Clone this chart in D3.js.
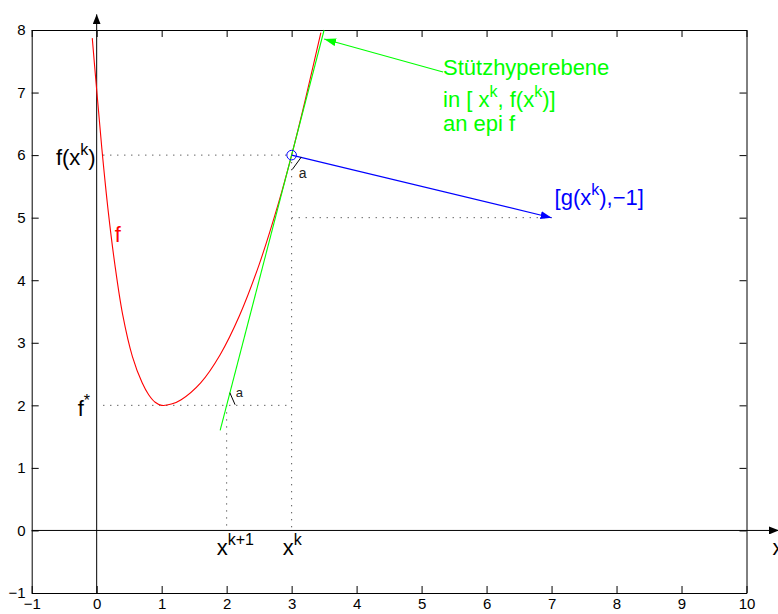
<!DOCTYPE html>
<html>
<head>
<meta charset="utf-8">
<script src="https://cdn.jsdelivr.net/npm/d3@7"></script>
<style>
  body { margin: 0; background: #fff; }
  svg { display: block; font-family: "Liberation Sans", Arial, Helvetica, sans-serif; }
</style>
</head>
<body>
<svg width="778" height="614"></svg>
<script>
// tick values
const xTicks = [-1, 0, 1, 2, 3, 4, 5, 6, 7, 8, 9, 10];
const yTicks = [-1, 0, 1, 2, 3, 4, 5, 6, 7, 8];

// the function f
const curveX = [-0.068, 0, 0.08, 0.18, 0.28, 0.4, 0.55, 0.7, 0.8, 0.9, 1.0, 1.15, 1.3, 1.6, 1.9, 2.2, 2.5, 2.8, 3.0, 3.2, 3.45];
const curveY = [7.87, 7.04, 6.1, 5.08, 4.25, 3.45, 2.78, 2.36, 2.17, 2.05, 2.0, 2.02, 2.09, 2.36, 2.81, 3.44, 4.25, 5.24, 6.0, 6.84, 7.96];

// supporting hyperplane (tangent) and subgradient
const tangentX = [1.9, 3.5];
const tangentY = [1.6, 8.0];
const xk = [3, 6];
const gradEnd = [7, 5];

// dotted helper lines
const guideLines = [
  [[0.1, 6], [3, 6]],
  [[3, 6], [3, 0]],
  [[3, 5], [7, 5]],
  [[0.1, 2], [3, 2]],
  [[2, 2], [2, 0]]
];

// leader arrow from the green text to the hyperplane
const leaderFrom = [5.33, 7.33];
const leaderTo = [3.5, 7.855];

// little angle marks "a"
const angleMarks = [
  [[3.15, 5.97], [3.01, 5.77]],
  [[2.05, 2.2], [2.13, 2.01]]
];

// extents of the drawn coordinate axes (with arrows)
const axisArrowX = [-1, 10.5];
const axisArrowY = [-1, 8.25];

const svg = d3.select("svg"),
      width = +svg.attr("width"),
      height = +svg.attr("height");

const margin = {top: 30, right: 31.5, bottom: 21, left: 31.7};

const x = d3.scaleLinear().domain([-1, 10]).range([margin.left, width - margin.right]);
const y = d3.scaleLinear().domain([-1, 8]).range([height - margin.bottom, margin.top]);

// arrow markers
const defs = svg.append("defs");
function marker(id, color, len, half) {
  defs.append("marker")
    .attr("id", id)
    .attr("markerUnits", "userSpaceOnUse")
    .attr("viewBox", `0 ${-half} ${len} ${half * 2}`)
    .attr("refX", len).attr("refY", 0)
    .attr("markerWidth", len).attr("markerHeight", half * 2)
    .attr("orient", "auto")
    .append("path")
      .attr("d", `M0,${-half}L${len},0L0,${half}Z`)
      .attr("fill", color);
}
marker("arrBlack", "#000", 10, 4);
marker("arrBlue", "#0000ff", 11, 4);
marker("arrGreen", "#00ff00", 12, 4);

// frame with inward ticks on all four sides
const tickLen = 7;
function styleAxis(g) {
  g.selectAll("path.domain").attr("stroke", "#000");
  g.selectAll(".tick line").attr("stroke", "#000");
  g.selectAll(".tick text").attr("fill", "#000").attr("font-size", 15)
    .attr("font-family", "\"Liberation Sans\", Arial, sans-serif");
}
svg.append("g")
  .attr("transform", `translate(0,${height - margin.bottom})`)
  .call(d3.axisBottom(x).tickValues(xTicks).tickSizeInner(-tickLen).tickSizeOuter(0).tickPadding(5))
  .call(styleAxis);
svg.append("g")
  .attr("transform", `translate(0,${margin.top})`)
  .call(d3.axisTop(x).tickValues(xTicks).tickSizeInner(-tickLen).tickSizeOuter(0).tickFormat(""))
  .call(styleAxis);
svg.append("g")
  .attr("transform", `translate(${margin.left},0)`)
  .call(d3.axisLeft(y).tickValues(yTicks).tickSizeInner(-tickLen).tickSizeOuter(0).tickPadding(6))
  .call(styleAxis);
svg.append("g")
  .attr("transform", `translate(${width - margin.right},0)`)
  .call(d3.axisRight(y).tickValues(yTicks).tickSizeInner(-tickLen).tickSizeOuter(0).tickFormat(""))
  .call(styleAxis);

// coordinate axes through the origin
svg.append("line")
  .attr("x1", x(axisArrowX[0])).attr("x2", x(axisArrowX[1]))
  .attr("y1", y(0)).attr("y2", y(0))
  .attr("stroke", "#000").attr("marker-end", "url(#arrBlack)");
svg.append("line")
  .attr("x1", x(0)).attr("x2", x(0))
  .attr("y1", y(axisArrowY[0])).attr("y2", y(axisArrowY[1]))
  .attr("stroke", "#000").attr("marker-end", "url(#arrBlack)");

// dotted guides
svg.selectAll(".guide")
  .data(guideLines)
  .enter().append("line")
    .attr("class", "guide")
    .attr("x1", d => x(d[0][0])).attr("y1", d => y(d[0][1]))
    .attr("x2", d => x(d[1][0])).attr("y2", d => y(d[1][1]))
    .attr("stroke", "#444")
    .attr("stroke-width", 1)
    .attr("stroke-dasharray", "1.2,5.8");

// f
const line = d3.line()
  .x(d => x(d[0]))
  .y(d => y(d[1]))
  .curve(d3.curveCatmullRom.alpha(0.5));
svg.append("path")
  .attr("d", line(d3.zip(curveX, curveY)))
  .attr("fill", "none")
  .attr("stroke", "#ff0000")
  .attr("stroke-width", 1.1);

// tangent
svg.append("line")
  .attr("x1", x(tangentX[0])).attr("y1", y(tangentY[0]))
  .attr("x2", x(tangentX[1])).attr("y2", y(tangentY[1]))
  .attr("stroke", "#00ff00").attr("stroke-width", 1.1);

// subgradient arrow
svg.append("line")
  .attr("x1", x(xk[0])).attr("y1", y(xk[1]))
  .attr("x2", x(gradEnd[0])).attr("y2", y(gradEnd[1]))
  .attr("stroke", "#0000ff").attr("stroke-width", 1.1)
  .attr("marker-end", "url(#arrBlue)");
svg.append("circle")
  .attr("cx", x(xk[0])).attr("cy", y(xk[1]))
  .attr("r", 4.8)
  .attr("fill", "none").attr("stroke", "#0000ff");

// leader arrow
svg.append("line")
  .attr("x1", x(leaderFrom[0])).attr("y1", y(leaderFrom[1]))
  .attr("x2", x(leaderTo[0])).attr("y2", y(leaderTo[1]))
  .attr("stroke", "#00ff00").attr("stroke-width", 1.1)
  .attr("marker-end", "url(#arrGreen)");

// angle marks
svg.selectAll(".angle")
  .data(angleMarks)
  .enter().append("line")
    .attr("class", "angle")
    .attr("x1", d => x(d[0][0])).attr("y1", d => y(d[0][1]))
    .attr("x2", d => x(d[1][0])).attr("y2", d => y(d[1][1]))
    .attr("stroke", "#000");

// text with superscripts: parts = [[string, isSup], ...]
function label(px, py, parts, color, anchor, size) {
  size = size || 22;
  const t = svg.append("text")
    .attr("x", px).attr("y", py)
    .attr("fill", color)
    .attr("font-size", size)
    .attr("text-anchor", anchor || "start");
  let up = false;
  parts.forEach(p => {
    const s = t.append("tspan").text(p[0]);
    if (p[1] && !up) { s.attr("dy", -10).attr("font-size", 16); up = true; }
    else if (p[1]) { s.attr("font-size", 16); }
    else if (up) { s.attr("dy", 10); up = false; }
  });
  return t;
}

label(x(0) - 1, y(6) + 10, [["f(x", 0], ["k", 1], [")", 0]], "#000", "end");
label(x(0) - 19, y(2) + 11, [["f", 0], ["*", 1]], "#000", "start");
label(x(0) + 18, y(5) + 24, [["f", 0]], "#ff0000", "start");
label(x(2) - 10, y(0) + 25, [["x", 0], ["k+1", 1]], "#000", "start");
label(x(3) - 9, y(0) + 25, [["x", 0], ["k", 1]], "#000", "start");
label(x(10) + 26, y(0) + 25, [["x", 0]], "#000", "start");
label(x(7) + 3, y(5) - 13, [["[g(x", 0], ["k", 1], ["),\u22121]", 0]], "#0000ff", "start");

label(443, 75, [["Stützhyperebene", 0]], "#00ff00", "start");
label(443, 107, [["in [ x", 0], ["k", 1], [", f(x", 0], ["k", 1], [")]", 0]], "#00ff00", "start");
label(443, 131, [["an epi f", 0]], "#00ff00", "start");

label(x(3) + 7, y(6) + 23, [["a", 0]], "#222", "start", 14);
label(x(2) + 9, y(2) - 8, [["a", 0]], "#222", "start", 13);
</script>
</body>
</html>
